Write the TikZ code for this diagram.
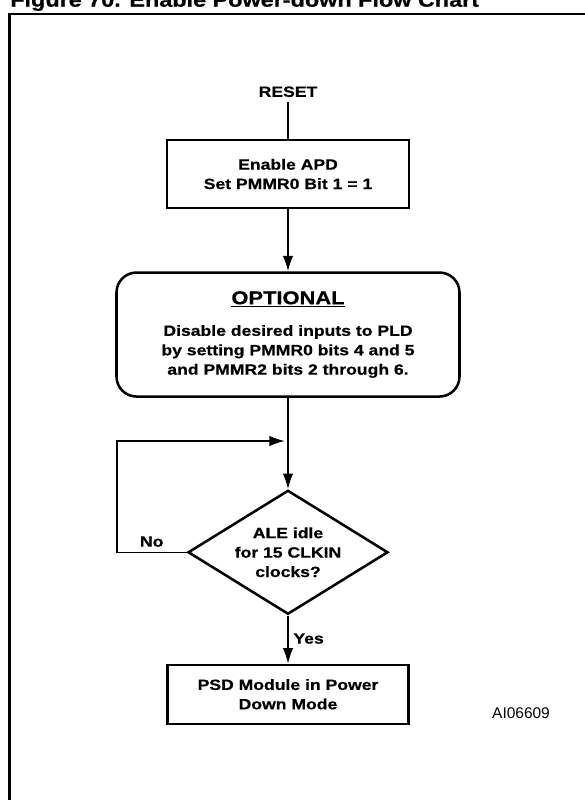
\documentclass[tikz,border=0pt]{standalone}
\usepackage{fontspec}
\setmainfont{Liberation Sans}
\newfontfamily\widefont{Liberation Sans}[FakeStretch=1.18,BoldFeatures={FakeBold=0.6}]
\usetikzlibrary{positioning,arrows.meta,shapes.geometric}

\newcommand{\undertext}[1]{\setbox0\hbox{#1}\rlap{\rule[-2.2pt]{\wd0}{0.9pt}}\box0}

\begin{document}
\begin{tikzpicture}[
    every node/.style={font=\widefont\bfseries\fontsize{10.6}{13.8}\selectfont},
    box/.style={draw,line width=1.8pt,minimum width=6.05cm,minimum height=1.7cm,align=center},
    optbox/.style={box,rounded corners=0.5cm,minimum width=8.575cm,minimum height=3.1cm},
    decision/.style={draw,diamond,line width=1.8pt,minimum width=5cm,minimum height=3.1cm,aspect=1.6,inner sep=0pt,align=center},
    arr/.style={-{Latex[length=11pt,width=7.5pt]},line width=1.1pt},
    link/.style={line width=1.1pt}
  ]
    \useasboundingbox (0,0) rectangle (14.6,-20);
    \node[anchor=base west,inner sep=0pt,font=\widefont\bfseries\fontsize{14.1}{16}\selectfont] (title) at (0.25,-0.1675) {Figure 70. Enable Power-down Flow Chart};
    \draw[line width=1.8pt] (0.2425,-0.345) rectangle (15.5,-21);

    \node (reset) at (7.2,-2.2925) {RESET};
    \node[box,below=0.92cm of reset] (apd) {Enable APD\\Set PMMR0 Bit 1 = 1};
    \node[optbox,below=1.55cm of apd] (opt) {{\fontsize{13.2}{13.8}\selectfont\undertext{OPTIONAL}}\\[8.7pt]
      Disable desired inputs to PLD\\by setting PMMR0 bits 4 and 5\\and PMMR2 bits 2 through 6.};
    \node[decision,below=2.28cm of opt] (idle) {ALE idle\\for 15 CLKIN\\clocks?};
    \node[box,minimum width=6.025cm,minimum height=1.475cm,below=1.2cm of idle] (psd) {PSD Module in Power\\Down Mode};
    \node[font=\fontsize{11}{13}\selectfont] (ainum) at (13.025,-17.84) {AI06609};
    \coordinate[above=1.2cm of idle.north] (back);

    \draw[link] (reset) -- (apd);
    \draw[arr] (apd) -- (opt);
    \draw[arr] (opt) -- (idle);
    \draw[arr] (idle) -- node[right,pos=0.48] {Yes} (psd);
    \draw[arr,shorten >=0.08cm] (idle.west) -- node[above,pos=0.5] {No} ++(-1.75,0) |- (back);
  \end{tikzpicture}
\end{document}
